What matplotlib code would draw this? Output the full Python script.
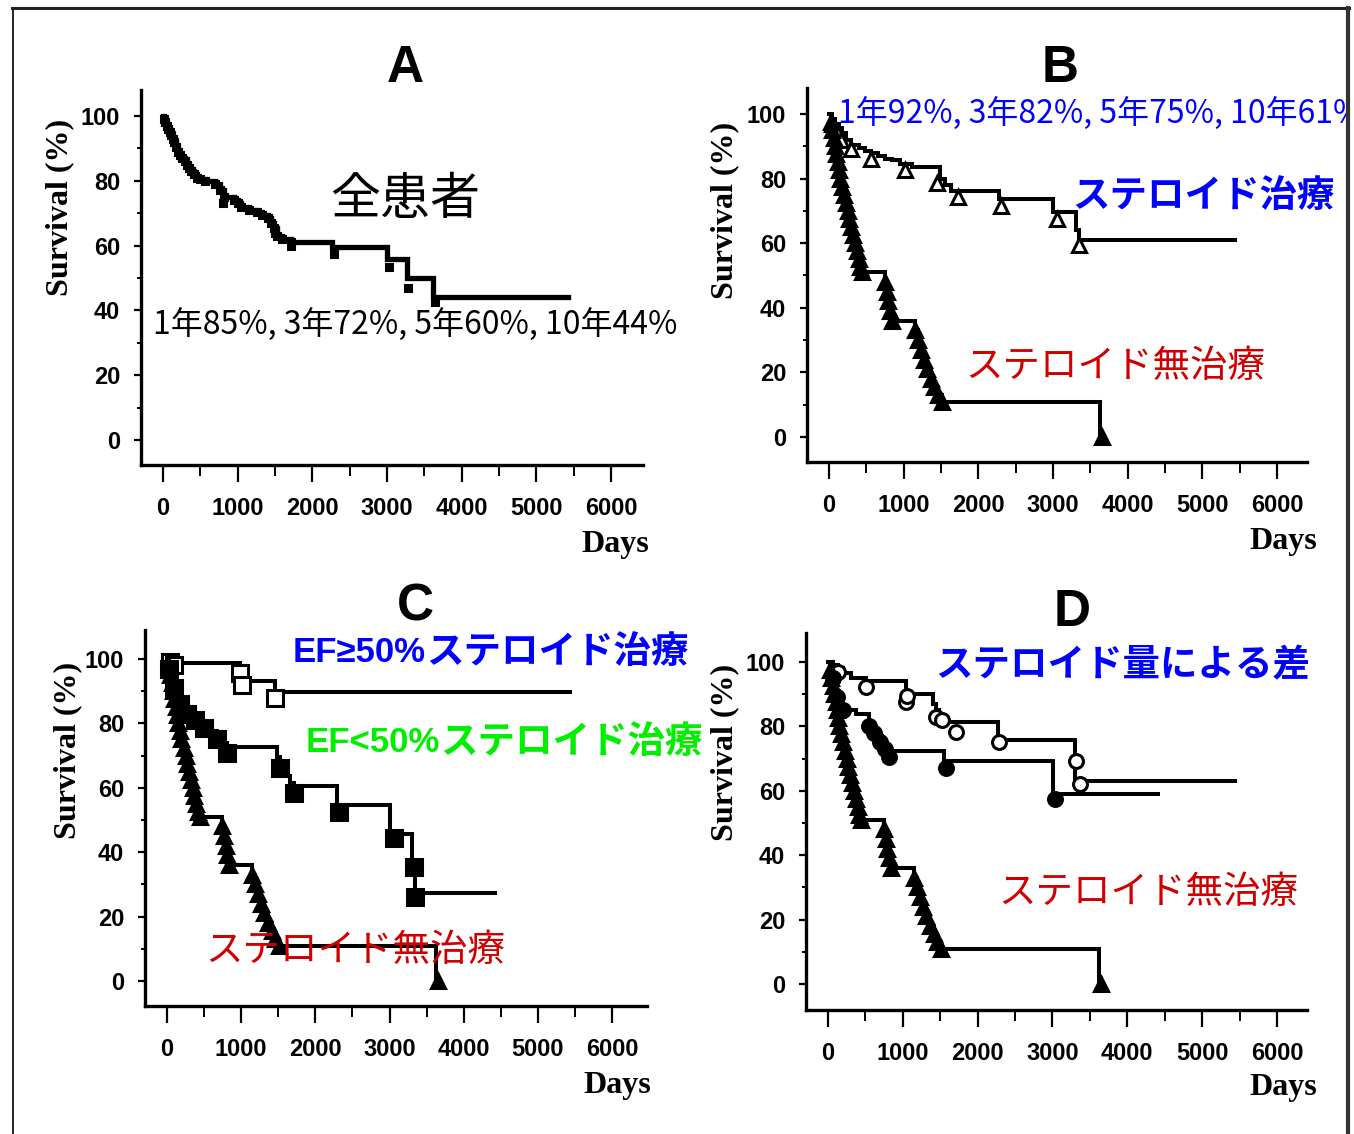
import matplotlib.pyplot as plt
from matplotlib.lines import Line2D
from matplotlib.patches import Rectangle

plt.rcParams['font.family'] = ['Noto Sans CJK JP', 'DejaVu Sans']

W, H = 1354, 1134

## data: (days, survival %)
# A: all patients
a_days = [0, 15, 30, 50, 70, 90, 110, 130, 150, 175, 200, 230, 260, 290, 320, 350, 380, 410, 450, 500,
          560, 700, 760, 820, 950, 1000, 1040, 1150, 1260, 1330, 1400, 1450, 1490, 1530, 1600, 1710,
          2268, 3004, 3263, 3621, 5420]
a_surv = [100, 99, 98, 97, 96, 95, 94, 93, 92, 90.5, 89, 88, 87, 86, 85, 84, 83, 82, 81, 80.5,
          80, 79, 77, 75, 74, 73, 72, 71, 70.5, 69.5, 68.5, 67, 65.5, 63, 62, 61,
          59.7, 56, 50, 44, 44]
a_cens_days = [810, 1500, 1720, 2290, 3020, 3280, 3640]
a_cens_surv = [73, 64, 60, 57.5, 53.5, 47, 42.5]

# steroid treated (open triangles)
s_days = [0, 40, 80, 130, 180, 233, 300, 400, 480, 558, 650, 750, 837, 950, 1116, 1488, 1560, 1628,
          2279, 3000, 3302, 3349, 5440]
s_surv = [100, 98.5, 97, 95.5, 94, 92, 90.5, 89.5, 88.5, 88, 87, 86, 85.6, 84.5, 83.5, 80, 78, 76,
          73.7, 69.6, 64, 61, 61]
s_mark_days = [40, 90, 160, 300, 560, 1020, 1440, 1721, 2302, 3047, 3349]
s_mark_surv = [97, 95, 92, 89, 86, 82.5, 78.5, 74.2, 71.6, 67.5, 59.5]

# no steroid (filled triangles)
n_days = [0, 20, 45, 65, 85, 100, 120, 135, 150, 170, 195, 225, 250, 270, 295, 320, 345, 370, 395, 420,
          445, 745, 770, 790, 815, 840, 1150, 1190, 1230, 1270, 1310, 1360, 1410, 1460, 1510, 3625]
n_surv = [100, 97.5, 95, 92.5, 90, 87.5, 85, 82.5, 80, 77.5, 75, 72.5, 70, 67.5, 65, 62.5, 60, 57.5, 55, 52.5,
          51, 48, 45, 42, 39, 36, 33, 30, 27, 24, 21, 18, 15.5, 13, 10.8, 0]
n_last_day = 3650

# C: EF>=50% (open squares), EF<50% (filled squares)
h_days = [0, 40, 80, 120, 989, 1461, 5430]
h_surv = [100, 99.5, 99, 98.6, 93.3, 89.6, 89.6]
h_mark_days = [40, 100, 989, 1010, 1461]
h_mark_surv = [99, 98, 95.5, 92, 88]

l_days = [0, 30, 60, 90, 130, 170, 220, 270, 315, 380, 440, 500, 539, 600, 680, 750, 809, 1483, 1528,
          1600, 1660, 1708, 2292, 3011, 3303, 3340, 4427]
l_surv = [100, 98, 95, 92, 89, 87, 85.5, 84, 83, 81.5, 80.5, 79.5, 79, 77.5, 75.5, 74, 72.6, 69.5, 66.6,
          63.5, 61.5, 60.4, 54.7, 45.7, 36, 27.4, 27.4]
l_mark_days = [30, 90, 170, 270, 380, 500, 680, 809, 1528, 1708, 2315, 3056, 3326, 3348]
l_mark_surv = [97, 91, 86, 83, 81, 78.5, 75, 70.7, 66, 58.3, 52.6, 44.3, 35.5, 26.2]

# D: steroid dose groups (open / filled circles)
u_days = [0, 60, 130, 200, 300, 504, 1040, 1397, 1440, 1487, 1576, 2268, 3295, 5437]
u_surv = [100, 99, 98, 96.5, 95, 94, 90.1, 87, 85, 83.3, 81.25, 75.8, 63, 63]
u_mark_days = [130, 504, 1040, 1060, 1442, 1520, 1710, 2290, 3317, 3362]
u_mark_surv = [97, 92.2, 87.5, 89.5, 83, 82, 78.1, 75, 69.3, 62]

m_days = [0, 30, 60, 100, 140, 192, 250, 370, 549, 600, 660, 720, 780, 813, 1553, 3004, 4411]
m_surv = [100, 97, 94, 91, 88, 86, 85, 83.9, 81, 79, 77, 75, 73.5, 72.4, 69.3, 58.9, 58.9]
m_mark_days = [60, 120, 200, 549, 620, 700, 760, 813, 1576, 3027]
m_mark_surv = [95, 89, 85, 80, 78, 75, 73, 70.5, 67, 57.3]

x_major = [0, 1000, 2000, 3000, 4000, 5000, 6000]
x_minor = [500, 1500, 2500, 3500, 4500, 5500]
y_major = [0, 20, 40, 60, 80, 100]
y_minor = [10, 30, 50, 70, 90]

fig = plt.figure(figsize=(W / 100, H / 100), dpi=100)


def axes_px(left, top, right, bottom):
    ax = fig.add_axes([left / W, 1 - bottom / H, (right - left) / W, (bottom - top) / H])
    ax.patch.set_visible(False)
    return ax


def setup(ax, xlim, ylim):
    ax.set_xlim(*xlim)
    ax.set_ylim(*ylim)
    ax.spines['top'].set_visible(False)
    ax.spines['right'].set_visible(False)
    ax.spines['left'].set_linewidth(2.4)
    ax.spines['bottom'].set_linewidth(2.4)
    ax.set_xticks(x_major)
    ax.set_xticks(x_minor, minor=True)
    ax.set_yticks(y_major)
    ax.set_yticks(y_minor, minor=True)
    ax.tick_params(axis='x', which='major', length=12, width=1.6, pad=11)
    ax.tick_params(axis='x', which='minor', length=8, width=1.4)
    ax.tick_params(axis='y', which='major', length=5, width=1.6, pad=10)
    ax.tick_params(axis='y', which='minor', length=3, width=1.4)
    for lab in ax.get_xticklabels() + ax.get_yticklabels():
        lab.set_family(['Liberation Sans Narrow', 'Liberation Sans'])
        lab.set_weight('bold')
        lab.set_fontsize(17)


def km(ax, days, surv, lw=2.9):
    ax.step(days, surv, where='post', color='black', lw=lw, solid_joinstyle='miter')


def marks(ax, days, surv, marker, filled, ms=10):
    ax.plot(days, surv, ls='none', marker=marker, ms=ms,
            mfc='black' if filled else 'white', mec='black', mew=2.2)


def no_steroid(ax):
    km(ax, n_days, n_surv)
    marks(ax, n_days[1:21] + n_days[21:35], n_surv[1:21] + n_surv[21:35], '^', True)
    marks(ax, [n_last_day], [0], '^', True)


def ftext(x, y, s, **kw):
    return fig.text(x / W, 1 - y / H, s, **kw)


def two_part(ax, x, y, head, tail, color, size):
    # latin head in a narrower sans font, japanese tail right after it
    t1 = ftext(x, y, head, va='center', fontsize=size - 2, weight='bold', color=color,
               family=['Liberation Sans', 'DejaVu Sans'])
    ax.annotate(tail, xy=(1, 0.5), xycoords=t1, va='center', ha='left',
                fontsize=size, weight='bold', color=color, annotation_clip=False)


# ---- A ----
axA = axes_px(141, 90, 643, 465)
km(axA, a_days, a_surv, lw=3.8)
marks(axA, a_days[1:36], a_surv[1:36], 's', True, ms=5)
marks(axA, a_cens_days, a_cens_surv, 's', True, ms=5)
setup(axA, (-294, 6426), (-7.7, 108))

# ---- B ----
axB = axes_px(807, 88, 1307, 462)
km(axB, s_days, s_surv)
marks(axB, s_mark_days, s_mark_surv, '^', False)
no_steroid(axB)
setup(axB, (-295, 6402), (-7.7, 108))

# ---- C ----
axC = axes_px(145, 630, 647, 1006)
km(axC, h_days, h_surv)
marks(axC, h_mark_days, h_mark_surv, 's', False, ms=11)
km(axC, l_days, l_surv)
marks(axC, l_mark_days, l_mark_surv, 's', True, ms=11)
no_steroid(axC)
setup(axC, (-297, 6472), (-7.8, 109))

# ---- D ----
axD = axes_px(806, 633, 1307, 1010)
km(axD, u_days, u_surv)
marks(axD, u_mark_days, u_mark_surv, 'o', False, ms=10)
km(axD, m_days, m_surv)
marks(axD, m_mark_days, m_mark_surv, 'o', True, ms=10)
no_steroid(axD)
setup(axD, (-295, 6402), (-8.1, 109))

# panel letters
for x, y, s in [(405, 68, 'A'), (1060, 68, 'B'), (415, 607, 'C'), (1072, 612, 'D')]:
    ftext(x, y, s, ha='center', va='center', fontsize=37, weight='bold', family='Liberation Sans')

# axis labels
for x, y in [(615, 545), (1283, 542), (617, 1085), (1283, 1088)]:
    ftext(x, y, 'Days', ha='center', va='center', fontsize=23, weight='bold', family='Liberation Serif')
for x, y in [(60, 207), (725, 210), (68, 750), (725, 752)]:
    ftext(x, y, 'Survival (%)', ha='center', va='center', rotation=90, fontsize=23,
          weight='bold', family='Liberation Serif')

# annotations
blue, red, green = '#0000ff', '#d00000', '#00ee00'
ftext(405, 200, '全患者', ha='center', va='center', fontsize=36)
ftext(153, 325, '1年85%, 3年72%, 5年60%, 10年44%', va='center', fontsize=23)
ftext(838, 114, '1年92%, 3年82%, 5年75%, 10年61%', va='center', fontsize=23, color=blue)
ftext(1072, 195, 'ステロイド治療', va='center', fontsize=27, weight='bold', color=blue)
ftext(965, 367, 'ステロイド無治療', va='center', fontsize=27, color=red)
two_part(axC, 293, 652, 'EF≥50%', 'ステロイド治療', blue, 27)
two_part(axC, 306, 742, 'EF<50%', 'ステロイド治療', green, 27)
ftext(205, 950, 'ステロイド無治療', va='center', fontsize=27, color=red)
ftext(935, 665, 'ステロイド量による差', va='center', fontsize=27, weight='bold', color=blue)
ftext(998, 893, 'ステロイド無治療', va='center', fontsize=27, color=red)

# outer frame
fig.add_artist(Rectangle((1349 / W, 0), 6 / W, 1, transform=fig.transFigure,
                         color='white', zorder=10))
fig.add_artist(Line2D([12 / W, 1349 / W], [1 - 7.5 / H, 1 - 7.5 / H], transform=fig.transFigure,
                      color='#222222', lw=2.2, zorder=11))
fig.add_artist(Line2D([12.5 / W, 12.5 / W], [0, 1 - 7.5 / H], transform=fig.transFigure,
                      color='#222222', lw=1.4, zorder=11))
fig.add_artist(Line2D([1347.5 / W, 1347.5 / W], [0, 1 - 7.5 / H], transform=fig.transFigure,
                      color='#333333', lw=3, zorder=11))

fig.savefig('out.png', dpi=100)
